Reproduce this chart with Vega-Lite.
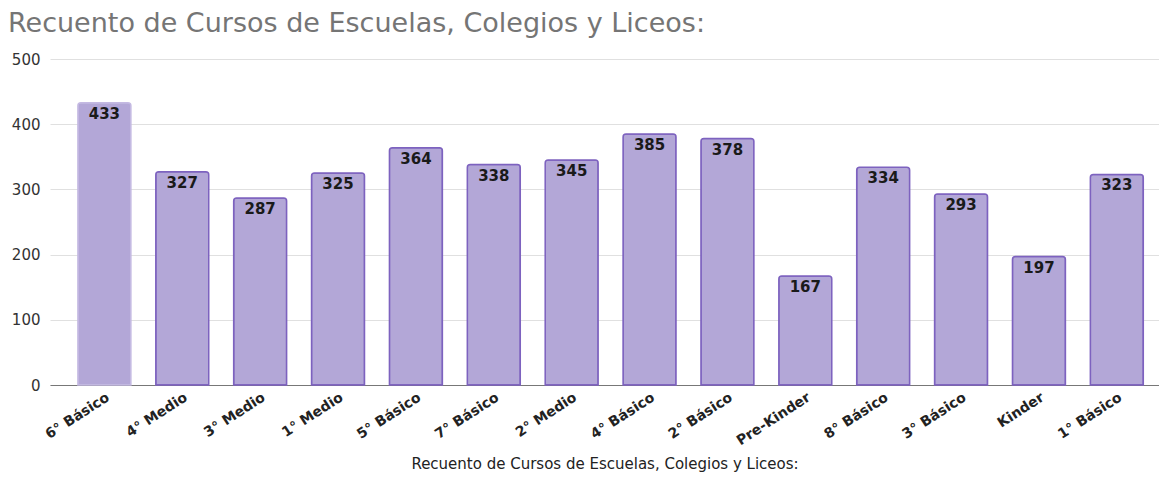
{
  "$schema": "https://vega.github.io/schema/vega-lite/v6.json",
  "width": 1109,
  "height": 326,
  "autosize": {"type": "none"},
  "padding": {"left": 50, "top": 59, "right": 0, "bottom": 94},
  "background": "#ffffff",
  "title": {
    "text": "Recuento de Cursos de Escuelas, Colegios y Liceos:",
    "anchor": "start",
    "frame": "group",
    "dx": -42,
    "offset": 14,
    "font": "DejaVu Sans",
    "fontSize": 27,
    "fontWeight": "normal",
    "color": "#757575"
  },
  "data": {
    "values": [
      {"curso": "6° Básico", "cantidad": 433},
      {"curso": "4° Medio", "cantidad": 327},
      {"curso": "3° Medio", "cantidad": 287},
      {"curso": "1° Medio", "cantidad": 325},
      {"curso": "5° Básico", "cantidad": 364},
      {"curso": "7° Básico", "cantidad": 338},
      {"curso": "2° Medio", "cantidad": 345},
      {"curso": "4° Básico", "cantidad": 385},
      {"curso": "2° Básico", "cantidad": 378},
      {"curso": "Pre-Kinder", "cantidad": 167},
      {"curso": "8° Básico", "cantidad": 334},
      {"curso": "3° Básico", "cantidad": 293},
      {"curso": "Kinder", "cantidad": 197},
      {"curso": "1° Básico", "cantidad": 323}
    ]
  },
  "encoding": {
    "x": {
      "field": "curso",
      "type": "nominal",
      "sort": null,
      "scale": {"paddingInner": 0.32, "paddingOuter": 0.28, "align": 0.64},
      "axis": {
        "title": "Recuento de Cursos de Escuelas, Colegios y Liceos:",
        "titleFont": "DejaVu Sans",
        "titleFontSize": 15,
        "titleFontWeight": "normal",
        "titleColor": "#222222",
        "titlePadding": 9,
        "labelAngle": -33,
        "labelAlign": "right",
        "labelBaseline": "top",
        "labelFont": "DejaVu Sans",
        "labelFontSize": 14,
        "labelFontWeight": "bold",
        "labelColor": "#222222",
        "labelPadding": 5,
        "labelOverlap": false,
        "ticks": false,
        "domainColor": "#777777",
        "domainWidth": 1.2,
        "grid": false
      }
    },
    "y": {
      "field": "cantidad",
      "type": "quantitative",
      "scale": {"domain": [0, 500]},
      "axis": {
        "title": null,
        "values": [0, 100, 200, 300, 400, 500],
        "labelFont": "DejaVu Sans",
        "labelFontSize": 15,
        "labelColor": "#333333",
        "labelPadding": 10,
        "ticks": false,
        "domain": false,
        "gridColor": "#e0e0e0",
        "gridWidth": 1
      }
    }
  },
  "layer": [
    {
      "mark": {
        "type": "bar",
        "fill": "#b3a7d7",
        "strokeWidth": 1.5,
        "cornerRadiusTopLeft": 3,
        "cornerRadiusTopRight": 3
      },
      "encoding": {
        "stroke": {
          "condition": {"test": "datum.curso === '6° Básico'", "value": "#c4b9e2"},
          "value": "#7d62bf"
        }
      }
    },
    {
      "mark": {
        "type": "text",
        "baseline": "top",
        "dy": 4,
        "font": "DejaVu Sans",
        "fontSize": 15,
        "fontWeight": "bold",
        "color": "#1a1a1a"
      },
      "encoding": {
        "text": {"field": "cantidad", "type": "quantitative"}
      }
    }
  ],
  "config": {
    "view": {"stroke": null}
  }
}
